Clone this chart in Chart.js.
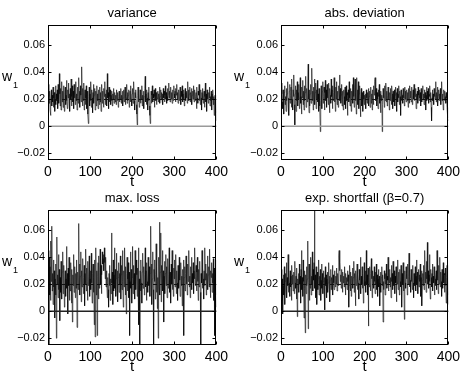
<!DOCTYPE html>
<html>
<head>
<meta charset="utf-8">
<script src="https://cdn.jsdelivr.net/npm/chart.js@4.4.0/dist/chart.umd.min.js"></script>
<style>
  body { margin: 0; background: #fff; }
  canvas { position: absolute; }
</style>
</head>
<body>
<canvas id="c0" width="232" height="190" style="left:0;top:0"></canvas>
<canvas id="c1" width="232" height="190" style="left:232px;top:0"></canvas>
<canvas id="c2" width="232" height="190" style="left:0;top:185px"></canvas>
<canvas id="c3" width="232" height="190" style="left:232px;top:185px"></canvas>
<script>
const titles = ['variance', 'abs. deviation', 'max. loss', 'exp. shortfall (\u03b2=0.7)'];
const xTicks = [0, 100, 200, 300, 400];
const yTicks = [-0.02, 0, 0.02, 0.04, 0.06];
const yTickLabels = ['\u22120.02', '0', '0.02', '0.04', '0.06'];
const target = 0.02;

const variance = [
.031,.022,.017,.026,.012,.008,.019,.027,.015,.023,
.018,.029,.014,.021,.025,.011,.020,.030,.016,.024,
.019,.027,.013,.031,.022,.017,.039,.024,.015,.028,
.012,.021,.033,.018,.026,.014,.030,.020,.011,.025,
.029,.016,.023,.034,.019,.013,.027,.021,.032,.017,
.024,.011,.028,.020,.035,.015,.022,.030,.018,.026,
.013,.031,.021,.027,.016,.033,.019,.024,.012,.029,
.022,.017,.036,.020,.026,.014,.030,.023,.018,.044,
.025,.015,.028,.019,.032,.012,.024,.027,.016,.021,
.030,.013,.026,.018,.009,.002,.022,.029,.015,.024,
.019,.033,.014,.027,.021,.010,.025,.031,.017,.023,
.028,.012,.020,.026,.015,.030,.019,.024,.013,.027,
.021,.016,.029,.018,.025,.011,.023,.031,.017,.026,
.020,.014,.028,.022,.033,.016,.024,.019,.027,.015,
.039,.021,.025,.013,.029,.018,.022,.027,.016,.023,
.019,.026,.015,.024,.020,.028,.017,.022,.025,.018,
.023,.016,.027,.021,.019,.025,.014,.022,.026,.018,
.024,.020,.028,.017,.023,.019,.026,.015,.021,.027,
.018,.024,.029,.016,.022,.020,.031,.017,.025,.019,
.023,.027,.014,.021,.026,.018,.030,.020,.015,.024,
.028,.017,.022,.033,.019,.012,.025,.021,.027,.016,
.009,.001,.023,.029,.018,.024,.014,.021,.027,.017,
.025,.020,.030,.015,.023,.019,.026,.013,.022,.028,
.037,.018,.024,.016,.027,.021,.012,.025,.019,.029,
.015,.008,.002,.020,.026,.017,.023,.030,.018,.024,
.021,.027,.014,.022,.028,.019,.025,.016,.023,.020,
.026,.018,.024,.021,.029,.017,.022,.027,.020,.025,
.019,.024,.016,.028,.021,.026,.018,.023,.030,.020,
.025,.017,.022,.028,.019,.024,.032,.021,.026,.018,
.023,.029,.020,.025,.017,.027,.022,.019,.030,.024,
.021,.026,.018,.028,.023,.031,.020,.025,.017,.022,
.027,.019,.024,.029,.021,.016,.026,.022,.030,.018,
.024,.020,.027,.015,.023,.028,.019,.025,.021,.026,
.017,.033,.022,.027,.019,.024,.029,.018,.025,.021,
.028,.016,.023,.026,.020,.030,.018,.024,.027,.019,
.022,.025,.013,.029,.021,.017,.026,.023,.031,.019,
.024,.016,.027,.021,.012,.025,.020,.028,.017,.023,
.026,.014,.022,.032,.018,.024,.011,.027,.020,.023,
.017,.025,.021,.029,.015,.022,.019,.026,.012,.024,
.020,.027,.016,.022,.008,.018,.023,.010,.019,.004
];

const absDeviation = [
.032,.024,.018,.013,.027,.020,.009,.025,.030,.016,
.022,.011,.028,.019,.024,.033,.015,.021,.008,.026,
.031,.017,.023,.029,.014,.035,.020,.012,.027,.022,
.038,.016,.001,.024,.030,.011,.027,.019,.033,.015,
.025,.020,.031,.013,.028,.036,.017,.022,.009,.029,
.021,.034,.016,.026,.012,.030,.019,.025,.037,.014,
.023,.028,.018,.032,.046,.020,.010,.027,.015,.024,
.031,.017,.022,.043,.019,.026,.012,.029,.021,.035,
.016,.025,.032,.013,.027,.020,.034,.018,.024,.011,
.028,.021,.015,-.004,.019,.030,.024,.013,.026,.033,
.017,.022,.029,.012,.025,.034,.019,.027,.014,.031,
.021,.026,.016,.032,.020,.010,.028,.023,.017,.035,
.022,.027,.013,.030,.019,.025,.036,.018,.024,.011,
.029,.020,.033,.016,.026,.021,.014,.030,.024,.038,
.019,.028,.017,.023,.031,.015,.026,.020,.012,.027,
.022,.016,.029,.024,.013,.030,.019,.025,.008,.023,
.027,.018,.033,.021,.015,.028,.024,.011,.026,.020,
.031,.017,.036,.022,.014,.029,.035,.019,.025,.009,
.036,.021,.027,.016,.033,.013,.024,.030,.018,.007,
.022,.028,.015,.025,.019,.011,.026,.020,.016,.023,
.018,.024,.013,.027,.021,.017,.025,.019,.028,.015,
.022,.026,.014,.020,.029,.017,.024,.012,.027,.021,
.016,.030,.023,.033,.036,.034,.019,.028,.015,.025,
.020,.013,.027,.022,.031,.017,.024,.010,.026,.019,
.023,-.004,.016,.028,.021,.025,.014,.030,.019,.024,
.032,.018,.026,.015,.023,.029,.020,.027,.012,.025,
.019,.028,.022,.016,.030,.024,.013,.026,.021,.018,
.027,.015,.023,.029,.020,.025,.011,.028,.018,.024,
.021,.030,.016,.026,.022,.008,.027,.019,.025,.023,
.017,.028,.021,.024,.015,.029,.020,.026,.018,.023,
.027,.019,.025,.014,.028,.022,.017,.030,.021,.026,
.018,.024,.029,.016,.023,.027,.020,.031,.019,.025,
.022,.028,.013,.024,.020,.026,.017,.029,.023,.019,
.027,.021,.025,.015,.028,.022,.018,.026,.030,.020,
.024,.016,.027,.021,.025,.012,.023,.029,.019,.026,
.020,.028,.017,.024,.022,.030,.018,.025,.014,.004,
.021,.027,.019,.024,.016,.028,.022,.026,.020,.033,
.018,.025,.021,.029,.015,.023,.027,.019,.024,.020,
.028,.016,.025,.033,.019,.024,.021,.012,.027,.023,
.019,.026,.022,.017,.025,.021,.014,.010,.006,.004
];

const maxLoss = [
.045,-.025,.040,.012,.033,.008,.052,.022,.063,.015,
.028,.005,.038,.018,.030,-.005,.024,.012,.035,-.020,
.055,.020,.027,.010,.042,.016,.031,-.007,.025,.014,
.037,.022,.009,.029,.044,.013,.026,.034,.003,.021,
.030,.011,.024,.048,.017,.028,-.002,.032,.019,.040,
.008,.025,.015,.036,.022,.006,.031,-.008,.027,.019,
.042,.014,.023,.033,.010,.028,.017,.038,-.012,.024,
.029,.016,.065,.021,.035,.012,.026,.044,.007,.030,
.018,.027,.039,.013,.025,.034,.004,.028,.020,.046,
.015,.032,.022,.008,.037,.019,.026,.041,.011,.024,
.030,.016,.043,.021,.006,.028,.035,.014,.025,-.010,
.038,-.019,.022,.047,.012,.030,-.018,.026,.036,.009,
.041,.017,.029,.046,.020,.034,.013,.027,.044,.035,
.039,.042,.030,.047,.036,.024,.040,.018,.030,.022,
.010,.025,.016,.003,.028,.019,.034,.008,.024,.013,
.058,.021,.029,.005,.038,.015,.027,.047,.017,.031,
.011,.024,.043,.018,.030,.007,.025,.036,.014,.028,
.020,.041,.009,.027,.034,.016,.045,.022,.003,.030,
.018,.047,.025,.012,.033,-.002,.028,.040,.015,.024,
.036,.010,.029,-.018,.022,.044,.017,.031,.006,.025,
.048,.013,.034,.020,.028,.009,.045,.023,.016,.038,
.027,.011,.032,.019,.047,-.010,.024,-.025,.030,.015,
.038,.021,.006,.029,.043,.017,.025,.033,.012,.027,
.047,.018,.030,.008,.036,.022,.014,.040,.026,.019,
.033,.011,.028,.063,.020,.035,.005,.024,.044,.016,
-.025,.031,.022,.038,.009,.027,.050,.014,.033,.002,
.025,-.020,.040,.018,.066,.012,.029,.058,.007,.034,
.021,.045,.015,.030,-.008,.026,.037,.013,.028,.042,
.019,.033,.010,.024,.039,.017,.027,.047,.014,.029,
.022,.006,.035,.020,.045,.016,.028,.011,.032,.024,
.038,.018,.026,.042,.013,.030,.021,.008,.034,.025,
.017,.040,.023,.011,.029,.036,.019,.026,.004,.031,
.022,.038,-.018,.025,.033,.015,.028,.041,.020,.027,
.012,.035,.022,.029,.045,.018,.026,.010,.033,.023,
.040,.016,.028,.021,.036,.013,.030,.024,.047,.019,
.026,.034,.015,.029,.040,.022,.008,.031,.018,.025,
.037,.014,-.025,.028,.021,.045,.017,.032,.024,.009,
.030,.019,.047,.023,.035,.012,.028,.020,.041,.016,
.027,.033,.018,.046,.022,.010,.030,.025,.036,.014,
.028,.021,.039,.008,.032,-.018,.024,.038,.012,.003
];

const expShortfall = [
.031,.008,.024,-.002,.019,.027,.012,.033,.005,.022,
.028,.015,.036,.010,.025,.019,.042,.014,.029,.021,
.011,.030,.018,.026,.008,.034,.020,.027,.015,.023,
.029,.013,.037,.021,.017,.026,.009,.032,-.004,.024,
.018,.028,.014,.035,.020,.026,.006,.031,.045,.016,
.025,.011,.038,.022,-.005,.030,.017,-.016,.027,.013,
.033,.019,.024,.052,-.013,.021,.035,.008,.028,.017,
.040,.012,.026,.020,.044,.015,.031,.023,.036,.082,
.017,.027,.010,.033,.021,.005,.029,.016,.024,.038,
.012,.026,.019,.031,.008,.023,.035,.017,.028,.013,
.022,.030,.015,.025,.001,.033,.019,.027,.010,.024,
.029,.014,.021,.036,.018,.026,.007,.023,.031,.016,
.025,.019,.034,.012,.027,.021,.016,.030,.024,.018,
.026,.020,.032,.015,.023,.028,.019,.041,.045,.030,
.036,.022,.027,.017,.031,.024,.014,.029,.021,.026,
.018,.033,.023,.012,.028,.020,.025,.016,.030,.022,
.027,.003,.019,.034,.024,.015,.029,.011,.026,.021,
.032,.017,.025,.037,.014,.028,.022,.004,.030,.019,
.024,.035,.016,.027,.021,.009,.031,.023,.018,.040,
.013,.026,.020,.033,.017,.028,.006,.024,.036,.019,
.022,.030,.014,.045,.020,.027,.012,.032,-.011,.025,
.018,.033,.021,.015,.028,.039,.024,.010,.030,.019,
.026,.017,.033,.022,.013,.029,.020,.035,.016,.027,
.011,.024,.031,.018,.026,.004,.021,.029,.014,.025,
.033,.019,.027,-.008,.022,.016,.030,.024,.012,.028,
.020,.035,.017,.026,.023,.040,.015,.029,.021,.031,
.018,.025,.010,.034,.022,.028,.016,.037,.024,.019,
.030,.013,.026,.021,.033,.007,.027,.020,.038,.016,
.025,.029,.012,.031,.022,.018,.034,.024,.003,.028,
.020,.036,.015,.026,-.006,.030,.021,.017,.033,.024,
.028,.012,.035,.020,.026,.043,.018,.029,.023,.014,
.031,.022,.027,.016,.034,.021,.010,.028,.024,.019,
.033,.015,.026,.038,.020,.029,.013,.024,.031,.018,
.027,.022,.035,.011,.025,.030,.004,.023,.028,.019,
.034,.016,.026,.045,.021,.029,.014,.037,.024,.051,
.020,.030,.017,.027,.042,.022,.009,.031,.025,.018,
.028,.035,.015,.026,.021,.033,.012,.029,.024,.019,
.030,.016,.045,.023,.027,.013,.034,.020,.026,.040,
.018,.029,.022,.011,.031,.025,.017,.036,.021,.028,
.014,.027,.032,.019,.006,.025,.034,.012,.026,.005
];

const FONT = '"Liberation Sans", Arial, Helvetica, sans-serif';

// box, inward ticks, zero line and dashed reference line, labels
const frame = {
  id: 'frame',
  afterDatasetsDraw(chart, args, opts) {
    const { ctx, chartArea: a, scales: { x, y } } = chart;
    ctx.save();
    ctx.lineWidth = 1.3;
    ctx.strokeStyle = opts.zeroColor;
    const y0 = y.getPixelForValue(0);
    ctx.beginPath(); ctx.moveTo(a.left, y0); ctx.lineTo(a.right, y0); ctx.stroke();

    ctx.lineWidth = 1;
    ctx.strokeStyle = '#111';
    ctx.setLineDash([4, 3]);
    const yt = Math.round(y.getPixelForValue(target)) + 0.5;
    ctx.beginPath(); ctx.moveTo(a.left, yt); ctx.lineTo(a.right, yt); ctx.stroke();
    ctx.setLineDash([]);

    ctx.strokeStyle = '#000';
    const L = Math.round(a.left) + 0.5, R = Math.round(a.right) - 0.5;
    const T = Math.round(a.top) + 0.5, B = Math.round(a.bottom) - 0.5;
    ctx.strokeRect(L, T, R - L, B - T);
    ctx.beginPath();
    xTicks.forEach(v => {
      const px = Math.round(x.getPixelForValue(v)) + 0.5;
      ctx.moveTo(px, B); ctx.lineTo(px, B - 3);
      ctx.moveTo(px, T); ctx.lineTo(px, T + 3);
    });
    yTicks.forEach(v => {
      const py = Math.round(y.getPixelForValue(v)) + 0.5;
      ctx.moveTo(L, py); ctx.lineTo(L + 3, py);
      ctx.moveTo(R, py); ctx.lineTo(R - 3, py);
    });
    ctx.stroke();
    ctx.restore();
  },
  afterDraw(chart, args, opts) {
    const { ctx, chartArea: a } = chart;
    const cx = (a.left + a.right) / 2;
    ctx.save();
    ctx.fillStyle = '#000';
    ctx.textAlign = 'center';
    ctx.textBaseline = 'middle';
    ctx.font = '13px ' + FONT;
    ctx.fillText(opts.title, cx, 13);
    ctx.font = '15px ' + FONT;
    ctx.fillText('t', cx, 182);
    ctx.textAlign = 'left';
    ctx.font = '14px ' + FONT;
    ctx.fillText('w', 2, 77);
    ctx.font = '9px ' + FONT;
    ctx.fillText('1', 13, 86);
    ctx.restore();
  }
};

const panels = [
  { id: 'c0', data: variance, title: titles[0], left: 48, right: 14, zeroColor: '#9a9a9a' },
  { id: 'c1', data: absDeviation, title: titles[1], left: 49, right: 13, zeroColor: '#9a9a9a' },
  { id: 'c2', data: maxLoss, title: titles[2], left: 48, right: 14, zeroColor: '#222' },
  { id: 'c3', data: expShortfall, title: titles[3], left: 49, right: 13, zeroColor: '#222' }
];

panels.forEach(p => {
  new Chart(document.getElementById(p.id), {
    type: 'line',
    data: {
      datasets: [{
        data: p.data.map((v, i) => ({ x: i + 1, y: v })),
        borderColor: '#000',
        borderWidth: 0.6,
        pointRadius: 0,
        tension: 0,
        fill: false
      }]
    },
    options: {
      responsive: false,
      animation: false,
      events: [],
      layout: { padding: { left: 0, right: p.right, top: 25, bottom: 0 } },
      plugins: {
        legend: { display: false },
        tooltip: { enabled: false },
        frame: { title: p.title, zeroColor: p.zeroColor }
      },
      scales: {
        x: {
          type: 'linear',
          min: 0,
          max: 400,
          afterFit: s => { s.height = 30; },
          afterBuildTicks: s => { s.ticks = xTicks.map(v => ({ value: v })); },
          grid: { display: false, drawTicks: false },
          border: { display: false },
          ticks: { color: '#000', padding: 4, maxRotation: 0, font: { family: FONT, size: 14 } }
        },
        y: {
          type: 'linear',
          min: -0.025,
          max: 0.075,
          afterFit: s => { s.width = p.left; },
          afterBuildTicks: s => { s.ticks = yTicks.map(v => ({ value: v })); },
          grid: { display: false, drawTicks: false },
          border: { display: false },
          ticks: {
            color: '#000',
            padding: 3,
            font: { family: FONT, size: 11 },
            callback: v => yTickLabels[yTicks.indexOf(v)]
          }
        }
      }
    },
    plugins: [frame]
  });
});
</script>
</body>
</html>
